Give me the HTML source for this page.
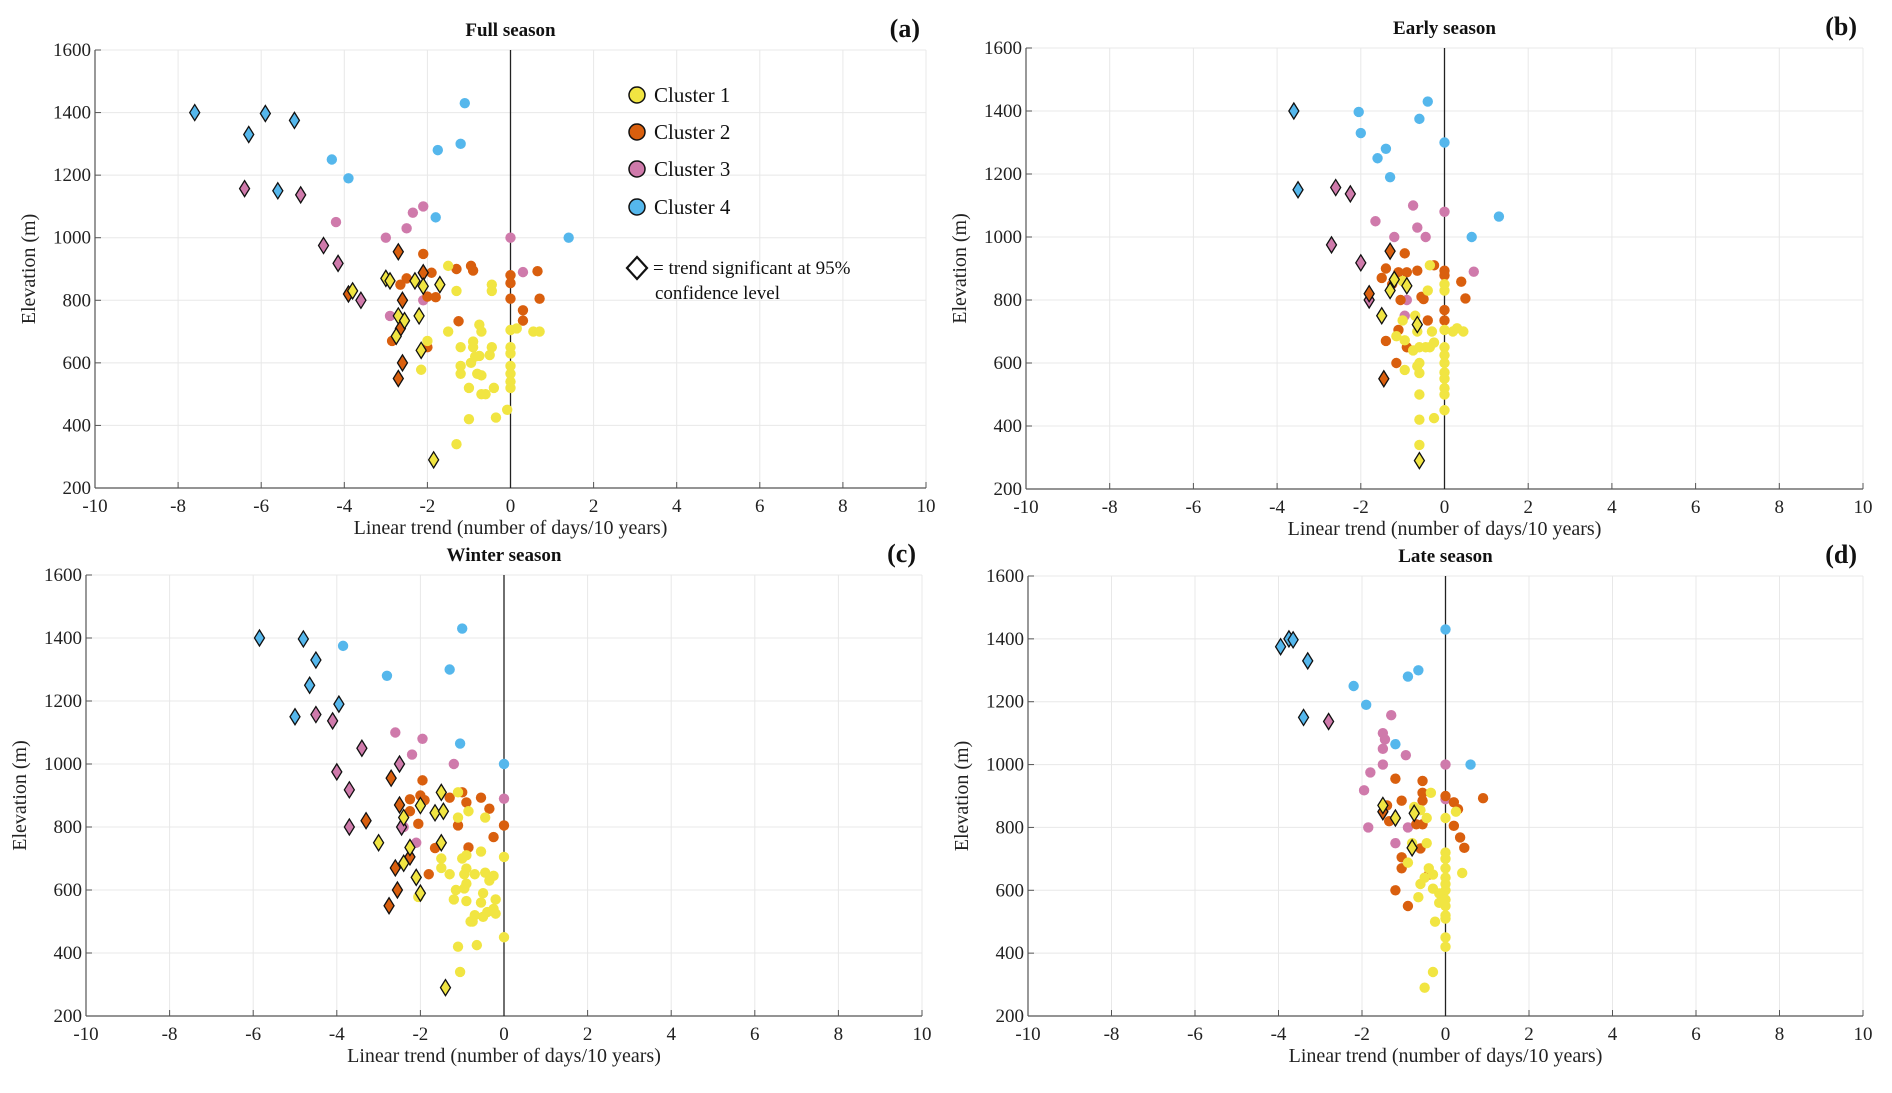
<!DOCTYPE html>
<html><head><meta charset="utf-8">
<style>
html,body{margin:0;padding:0;background:#fff;}
svg, svg text{font-family:"Liberation Serif",serif;}
</style></head>
<body>
<svg id="fig" width="1892" height="1088" viewBox="0 0 1892 1088" xmlns="http://www.w3.org/2000/svg" font-family="Liberation Serif, serif"></svg>
<script>
const xTicks = [-10,-8,-6,-4,-2,0,2,4,6,8,10];
const yTicks = [200,400,600,800,1000,1200,1400,1600];
const clusterNames = ["Cluster 1","Cluster 2","Cluster 3","Cluster 4"];
const clusterColors = ["#F1E542","#D95F0E","#CF7AAB","#55B7EC"];

// Panel (a) Full season
const trendA = [-1.1,-1.2,-1.75,-4.3,-3.9,-1.8,1.4, -2.1,-2.35,-4.2,-2.5,-3.0,0,0.3,-2.1,-2.9,
 -2.1,-1.3,-0.95,-0.9,-1.9,-2.5,-2.65,0,0,0.65,-2.0,-1.8,0,0.7,0.3,0.3,-1.25,-2.85,-2.0,
 -1.5,-0.45,-0.45,-1.3,-0.75,-0.7,-1.5,0,0.15,0.55,0.7,-0.9,-2.0,-1.2,-0.9,-0.45,0,0,-0.5,-0.75,-0.85,-0.95,-1.2,0,-1.2,0,-0.8,-0.7,-2.15,0,0,-1.0,-0.4,-0.7,-0.6,-0.08,-1.0,-0.35,-1.3,
 -7.6,-6.3,-5.9,-5.2,-5.6, -6.4,-5.05,-4.5,-4.15,-3.6, -3.9,-2.7,-2.1,-2.6,-2.65,-2.6,-2.7,
 -3.8,-3.0,-2.9,-2.3,-2.1,-1.7,-2.7,-2.55,-2.2,-2.75,-2.15,-1.85];
const elevA = [1430,1300,1280,1250,1190,1065,1000, 1100,1080,1050,1030,1000,1000,890,800,750,
 948,900,910,895,888,870,850,880,855,893,812,810,805,805,768,735,733,670,650,
 910,850,830,830,722,700,700,705,710,700,700,668,670,650,650,650,650,630,625,622,620,600,590,590,565,565,565,560,578,540,520,520,520,500,500,450,420,425,340,
 1400,1330,1397,1375,1150, 1157,1137,975,918,800, 820,955,888,800,710,600,550,
 830,870,862,862,845,850,750,735,750,685,640,290];
const clusterA = [4,4,4,4,4,4,4, 3,3,3,3,3,3,3,3,3,
 2,2,2,2,2,2,2,2,2,2,2,2,2,2,2,2,2,2,2,
 1,1,1,1,1,1,1,1,1,1,1,1,1,1,1,1,1,1,1,1,1,1,1,1,1,1,1,1,1,1,1,1,1,1,1,1,1,1,1,
 4,4,4,4,4, 3,3,3,3,3, 2,2,2,2,2,2,2,
 1,1,1,1,1,1,1,1,1,1,1,1];
const sigA = [0,0,0,0,0,0,0, 0,0,0,0,0,0,0,0,0,
 0,0,0,0,0,0,0,0,0,0,0,0,0,0,0,0,0,0,0,
 0,0,0,0,0,0,0,0,0,0,0,0,0,0,0,0,0,0,0,0,0,0,0,0,0,0,0,0,0,0,0,0,0,0,0,0,0,0,0,
 1,1,1,1,1, 1,1,1,1,1, 1,1,1,1,1,1,1,
 1,1,1,1,1,1,1,1,1,1,1,1];

// Panel (b) Early season
const trendB = [-0.4,-2.05,-0.6,-2.0,0,-1.4,-1.6,-1.3,1.3,0.65,
 -0.75,0,-1.65,-0.65,-1.2,-0.45,0.7,-0.9,-0.95,
 -0.95,-0.25,-1.4,-0.65,-1.1,-0.9,0,0,-1.5,-1.25,0.4,-0.55,-0.5,-1.05,0.5,0,0,-0.4,-1.1,-1.4,-0.9,-1.15,
 -0.35,-1.0,-0.4,0,0,-0.7,-1.0,-0.65,-0.3,0,0.2,0.3,0.45,-1.15,-0.95,-0.25,-0.75,-0.6,-0.45,-0.35,0,0,0,-0.6,-0.65,-0.95,-0.6,0,0,0,0,-0.6,0,-0.6,-0.25,-0.6,
 -3.6,-3.5, -2.6,-2.25,-2.7,-2.0,-1.8, -1.3,-1.8,-1.45,
 -1.2,-0.9,-1.3,-1.5,-0.65,-0.6];
const elevB = [1430,1397,1375,1330,1300,1280,1250,1190,1065,1000,
 1100,1080,1050,1030,1000,1000,890,800,750,
 948,910,900,893,888,888,893,878,870,850,858,810,803,800,805,768,735,735,705,670,650,600,
 910,860,830,850,830,750,735,700,700,705,700,710,700,685,672,665,640,650,650,650,650,625,600,600,590,578,568,570,550,520,500,500,450,420,425,340,
 1400,1150, 1157,1137,975,918,800, 955,820,550,
 865,845,830,750,722,290];
const clusterB = [4,4,4,4,4,4,4,4,4,4,
 3,3,3,3,3,3,3,3,3,
 2,2,2,2,2,2,2,2,2,2,2,2,2,2,2,2,2,2,2,2,2,2,
 1,1,1,1,1,1,1,1,1,1,1,1,1,1,1,1,1,1,1,1,1,1,1,1,1,1,1,1,1,1,1,1,1,1,1,1,
 4,4, 3,3,3,3,3, 2,2,2,
 1,1,1,1,1,1];
const sigB = [0,0,0,0,0,0,0,0,0,0,
 0,0,0,0,0,0,0,0,0,
 0,0,0,0,0,0,0,0,0,0,0,0,0,0,0,0,0,0,0,0,0,0,
 0,0,0,0,0,0,0,0,0,0,0,0,0,0,0,0,0,0,0,0,0,0,0,0,0,0,0,0,0,0,0,0,0,0,0,0,
 1,1, 1,1,1,1,1, 1,1,1,
 1,1,1,1,1,1];

// Panel (c) Winter season
const trendC = [-1.0,-3.85,-2.8,-1.3,-1.05,0,
 -2.6,-1.95,-2.2,-1.2,0,-2.4,-2.1,
 -1.95,-1.0,-2.0,-1.3,-1.9,-2.25,-0.55,-0.9,-2.25,-0.35,-2.05,-1.1,0,-0.25,-1.65,-0.85,-1.8,
 -1.1,-0.85,-0.45,-1.1,-1.5,-1.0,-0.9,-0.55,0,-1.5,-0.9,-1.3,-0.95,-0.7,-0.45,-0.25,-0.35,-0.9,-0.95,-1.15,-0.5,-0.2,-1.2,-0.9,-0.55,-2.05,-0.25,-0.4,-0.2,-0.7,-0.5,-0.8,-0.75,0,-1.1,-0.65,-1.05,
 -5.85,-4.8,-4.5,-4.65,-3.95,-5.0,
 -4.5,-4.1,-3.4,-2.5,-4.0,-3.7,-3.7,-2.45,
 -2.7,-2.5,-3.3,-2.25,-2.6,-2.55,-2.75,
 -1.5,-2.0,-2.4,-1.65,-1.45,-3.0,-2.25,-1.5,-2.4,-2.1,-2.0,-1.4];
const elevC = [1430,1375,1280,1300,1065,1000,
 1100,1080,1030,1000,890,800,750,
 948,910,900,893,885,888,893,878,850,858,810,805,805,768,733,735,650,
 910,850,830,830,700,700,710,722,705,670,668,650,650,650,655,645,630,620,605,600,590,570,570,565,560,578,540,530,525,520,515,500,500,450,420,425,340,
 1400,1397,1330,1250,1190,1150,
 1157,1137,1050,1000,975,918,800,800,
 955,870,820,705,670,600,550,
 910,868,830,845,850,750,735,750,685,640,590,290];
const clusterC = [4,4,4,4,4,4,
 3,3,3,3,3,3,3,
 2,2,2,2,2,2,2,2,2,2,2,2,2,2,2,2,2,
 1,1,1,1,1,1,1,1,1,1,1,1,1,1,1,1,1,1,1,1,1,1,1,1,1,1,1,1,1,1,1,1,1,1,1,1,1,
 4,4,4,4,4,4,
 3,3,3,3,3,3,3,3,
 2,2,2,2,2,2,2,
 1,1,1,1,1,1,1,1,1,1,1,1];
const sigC = [0,0,0,0,0,0,
 0,0,0,0,0,0,0,
 0,0,0,0,0,0,0,0,0,0,0,0,0,0,0,0,0,
 0,0,0,0,0,0,0,0,0,0,0,0,0,0,0,0,0,0,0,0,0,0,0,0,0,0,0,0,0,0,0,0,0,0,0,0,0,
 1,1,1,1,1,1,
 1,1,1,1,1,1,1,1,
 1,1,1,1,1,1,1,
 1,1,1,1,1,1,1,1,1,1,1,1];

// Panel (d) Late season
const trendD = [0,-0.65,-0.9,-2.2,-1.9,-1.2,0.6,
 -1.3,-1.5,-1.45,-1.5,-0.95,-1.5,0,-1.8,-1.95,0,-1.85,-0.9,-1.2,
 -1.2,-0.55,-0.55,0,-1.05,-0.55,-1.4,0.2,0.9,0.3,-1.35,-0.7,-0.55,0.2,0.35,0.45,-0.6,-1.05,-1.05,-0.4,-1.2,-0.9,
 -0.35,-0.75,-0.6,0.25,-0.45,0,-0.8,-0.45,0,0,-0.9,-0.4,0,0.4,-0.3,0,-0.5,-0.6,0,-0.3,0,-0.15,-0.65,0,-0.15,0,0,0,-0.25,0,0,-0.3,-0.5,
 -3.95,-3.75,-3.65,-3.3,-3.4, -2.8, -1.5,
 -1.5,-1.2,-0.75,-0.8];
const elevD = [1430,1300,1280,1250,1190,1065,1000,
 1157,1100,1080,1050,1030,1000,1000,975,918,890,800,800,750,
 955,948,910,900,885,885,870,880,893,858,820,810,810,805,768,735,733,705,670,650,600,550,
 910,865,855,850,830,830,750,750,720,700,688,670,670,655,650,640,640,620,620,605,600,590,578,570,560,550,520,510,500,450,420,340,290,
 1375,1400,1397,1330,1150, 1137, 850,
 870,830,845,735];
const clusterD = [4,4,4,4,4,4,4,
 3,3,3,3,3,3,3,3,3,3,3,3,3,
 2,2,2,2,2,2,2,2,2,2,2,2,2,2,2,2,2,2,2,2,2,2,
 1,1,1,1,1,1,1,1,1,1,1,1,1,1,1,1,1,1,1,1,1,1,1,1,1,1,1,1,1,1,1,1,1,
 4,4,4,4,4, 3, 2,
 1,1,1,1];
const sigD = [0,0,0,0,0,0,0,
 0,0,0,0,0,0,0,0,0,0,0,0,0,
 0,0,0,0,0,0,0,0,0,0,0,0,0,0,0,0,0,0,0,0,0,0,
 0,0,0,0,0,0,0,0,0,0,0,0,0,0,0,0,0,0,0,0,0,0,0,0,0,0,0,0,0,0,0,0,0,
 1,1,1,1,1, 1, 1,
 1,1,1,1];

const NS = "http://www.w3.org/2000/svg";
const svg = document.getElementById("fig");
const FF = "Liberation Serif, serif";
function mk(tag, attrs, parent){
  const e = document.createElementNS(NS, tag);
  for (const k in attrs) e.setAttribute(k, attrs[k]);
  if (tag === "text") e.setAttribute("font-family", FF);
  (parent||svg).appendChild(e);
  return e;
}

const panels = [
  {key:"a", title:"Full season", x0:95, x1:926, y0:50, y1:488, tx:trendA, ey:elevA, cl:clusterA, sg:sigA, legend:true},
  {key:"b", title:"Early season", x0:1026, x1:1863, y0:48, y1:489, tx:trendB, ey:elevB, cl:clusterB, sg:sigB},
  {key:"c", title:"Winter season", x0:86, x1:922, y0:575, y1:1016, tx:trendC, ey:elevC, cl:clusterC, sg:sigC},
  {key:"d", title:"Late season", x0:1028, x1:1863, y0:576, y1:1016, tx:trendD, ey:elevD, cl:clusterD, sg:sigD}
];

panels.forEach(p => {
  const g = mk("g", {});
  
  
  const sx = v => p.x0 + (v + 10) / 20 * (p.x1 - p.x0);
  const sy = v => p.y1 - (v - 200) / 1400 * (p.y1 - p.y0);
  xTicks.forEach(t => {
    const l = mk("line", {x1:sx(t), x2:sx(t), y1:p.y0, y2:p.y1, stroke:"#e8e8e8", "stroke-width":1}, g);
    
    
  });
  yTicks.forEach(t => {
    const l = mk("line", {x1:p.x0, x2:p.x1, y1:sy(t), y2:sy(t), stroke:"#e8e8e8", "stroke-width":1}, g);
    
    
  });
  const xa = mk("line", {x1:p.x0, x2:p.x1, y1:p.y1, y2:p.y1, stroke:"#555", "stroke-width":1.2}, g);
  
  
  const ya = mk("line", {x1:p.x0, x2:p.x0, y1:p.y0, y2:p.y1, stroke:"#555", "stroke-width":1.2}, g);
  
  
  xTicks.forEach(t => {
    mk("line", {x1:sx(t), x2:sx(t), y1:p.y1, y2:p.y1-6, stroke:"#555"}, g);
    const tx = mk("text", {x:sx(t), y:p.y1+24, "text-anchor":"middle", "font-size":19, fill:"#222"}, g);
    tx.textContent = t;
    
    
  });
  yTicks.forEach(t => {
    mk("line", {x1:p.x0, x2:p.x0+6, y1:sy(t), y2:sy(t), stroke:"#555"}, g);
    const tx = mk("text", {x:p.x0-4, y:sy(t)+6, "text-anchor":"end", "font-size":19, fill:"#222"}, g);
    tx.textContent = t;
    
    
  });
  const z = mk("line", {x1:sx(0), x2:sx(0), y1:p.y0, y2:p.y1, stroke:"#222", "stroke-width":1.3}, g);
  
  
  const xl = mk("text", {x:(p.x0+p.x1)/2, y:p.y1+46, "text-anchor":"middle", "font-size":20, fill:"#222"}, g);
  xl.textContent = "Linear trend (number of days/10 years)";
  
  
  const cy = (p.y0+p.y1)/2, cx = p.x0-60;
  const yl = mk("text", {x:cx, y:cy, transform:`rotate(-90 ${cx} ${cy})`, "text-anchor":"middle", "font-size":20, fill:"#222"}, g);
  yl.textContent = "Elevation (m)";
  
  
  const ti = mk("text", {x:(p.x0+p.x1)/2, y:p.y0-14, "text-anchor":"middle", "font-size":19, "font-weight":"bold", fill:"#111"}, g);
  ti.textContent = p.title;
  
  
  const pl = mk("text", {x:p.x1-6, y:p.y0-13, "text-anchor":"end", "font-size":26, "font-weight":"bold", fill:"#111"}, g);
  pl.textContent = "(" + p.key + ")";
  
  
  for (let i = 0; i < p.tx.length; i++) {
    const x = sx(p.tx[i]), y = sy(p.ey[i]);
    const col = clusterColors[p.cl[i]-1];
    let m;
    if (p.sg[i]) {
      m = mk("path", {d:`M${x} ${y-8}L${x+5} ${y}L${x} ${y+8}L${x-5} ${y}Z`, fill:col, stroke:"#111", "stroke-width":1.3}, g);
      
    } else {
      m = mk("circle", {cx:x, cy:y, r:5.2, fill:col}, g);
      
    }
    
  }
  if (p.legend) {
    const lg = mk("g", {}, g);
    
    
    const ys = [95, 132, 169, 207];
    clusterNames.forEach((n, k) => {
      const c = mk("circle", {cx:637, cy:ys[k], r:8, fill:clusterColors[k], stroke:"#111", "stroke-width":1.5}, lg);
      
      
      const t = mk("text", {x:654, y:ys[k]+7, "font-size":21, fill:"#111"}, lg);
      t.textContent = n;
      
      
    });
    const d = mk("path", {d:"M637 257L647 268L637 279L627 268Z", fill:"#fff", stroke:"#111", "stroke-width":2.2}, lg);
    
    
    const t1 = mk("text", {x:653, y:274, "font-size":19, fill:"#111"}, lg);
    t1.textContent = "= trend significant at 95%";
    
    
    const t2 = mk("text", {x:655, y:299, "font-size":19, fill:"#111"}, lg);
    t2.textContent = "confidence level";
    
    
  }
});
</script>
</body></html>
